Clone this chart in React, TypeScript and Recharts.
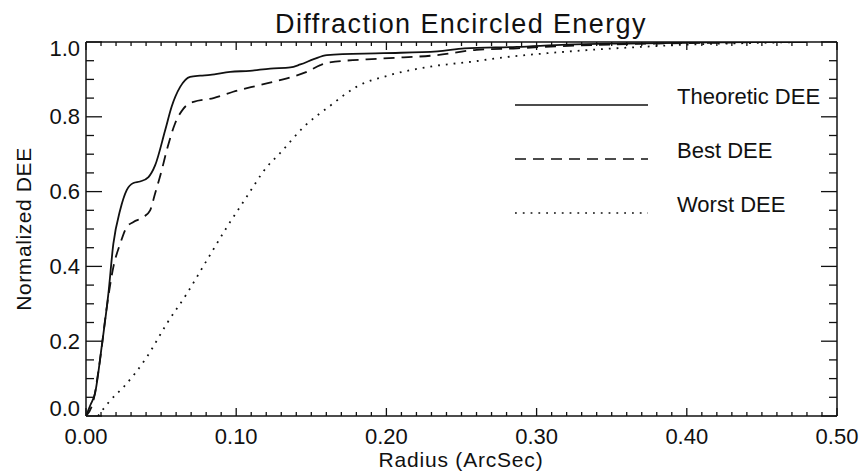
import React from "react";
import { LineChart, Line, XAxis, YAxis, Legend } from "recharts";

// radius (arcsec) / normalized DEE
const theoreticR = [0, 0.003, 0.006, 0.0104, 0.0149, 0.0182, 0.0227, 0.0271, 0.0316, 0.036, 0.0416, 0.046, 0.0527, 0.057, 0.0627, 0.0693, 0.076, 0.0827, 0.096, 0.109, 0.1227, 0.136, 0.1427, 0.1516, 0.1604, 0.198, 0.234, 0.252, 0.287, 0.32, 0.36, 0.4, 0.44, 0.48];
const theoreticDee = [0, 0.03, 0.06, 0.184, 0.327, 0.46, 0.55, 0.604, 0.623, 0.627, 0.639, 0.67, 0.764, 0.827, 0.88, 0.907, 0.91, 0.912, 0.92, 0.923, 0.929, 0.932, 0.94, 0.954, 0.965, 0.97, 0.975, 0.983, 0.987, 0.993, 0.996, 0.998, 1.0, 1.0];

const bestR = [0, 0.0049, 0.0093, 0.0138, 0.0182, 0.0227, 0.0271, 0.0316, 0.0382, 0.0427, 0.046, 0.0504, 0.0538, 0.0593, 0.0649, 0.0716, 0.0849, 0.098, 0.116, 0.1338, 0.147, 0.156, 0.1616, 0.198, 0.234, 0.26, 0.287, 0.305, 0.34, 0.38, 0.42, 0.46, 0.48];
const bestDee = [0, 0.041, 0.149, 0.29, 0.398, 0.46, 0.505, 0.519, 0.532, 0.55, 0.595, 0.657, 0.711, 0.782, 0.822, 0.84, 0.85, 0.867, 0.885, 0.903, 0.92, 0.938, 0.945, 0.956, 0.965, 0.979, 0.983, 0.987, 0.992, 0.996, 0.998, 1.0, 1.0];

const worstR = [0.008, 0.0116, 0.016, 0.0249, 0.0404, 0.0538, 0.0671, 0.0804, 0.0938, 0.107, 0.1204, 0.129, 0.145, 0.163, 0.18, 0.2027, 0.229, 0.256, 0.283, 0.307, 0.34, 0.37, 0.4, 0.44, 0.48];
const worstDee = [0, 0.019, 0.041, 0.077, 0.157, 0.247, 0.327, 0.416, 0.505, 0.586, 0.666, 0.702, 0.773, 0.831, 0.88, 0.912, 0.934, 0.947, 0.961, 0.97, 0.98, 0.987, 0.993, 0.997, 1.0];

const seriesNames = ["Theoretic DEE", "Best DEE", "Worst DEE"];
const xTickLabels = ["0.00", "0.10", "0.20", "0.30", "0.40", "0.50"];
const yTickLabels = ["0.0", "0.2", "0.4", "0.6", "0.8", "1.0"];

// minor ticks: 10 per major on x, 4 per major on y
const xTicks = Array.from({ length: 51 }, (_, i) => i / 100);
const yTicks = Array.from({ length: 21 }, (_, i) => i / 20);

const toRows = (r: number[], d: number[]) => r.map((v, i) => ({ r: v, dee: d[i] }));
const theoretic = toRows(theoreticR, theoreticDee);
const best = toRows(bestR, bestDee);
const worst = toRows(worstR, worstDee);

const INK = "#111";
const FONT = '"Liberation Sans", Arial, sans-serif';

const W = 863;
const H = 474;
const MARGIN = { top: 41, right: 25, bottom: 0, left: 0 };
const TOP_AXIS_H = 1;
const BOTTOM_AXIS_H = 58;
const PLOT_H = H - MARGIN.top - TOP_AXIS_H - BOTTOM_AXIS_H - MARGIN.bottom;

const tickPath = (x1: number, y1: number, x2: number, y2: number) => (
  <path d={`M${x1},${y1}L${x2},${y2}`} stroke={INK} strokeWidth={1.3} fill="none" />
);

// bottom ticks also draw the matching inward ticks on the top frame
const BottomTick = (props: any) => {
  const x = Number(props.x);
  const y = Number(props.y);
  const { index } = props;
  const major = index % 10 === 0;
  const len = major ? 8 : 4;
  const top = y - PLOT_H;
  return (
    <g>
      {tickPath(x, y, x, y - len)}
      {tickPath(x, top, x, top + len)}
      {major && (
        <text x={x} y={y + 20} textAnchor="middle" dominantBaseline="central" fontFamily={FONT} fontSize={22} fill={INK}>
          {xTickLabels[index / 10]}
        </text>
      )}
    </g>
  );
};

const LeftTick = (props: any) => {
  const x = Number(props.x);
  const y = Number(props.y);
  const { index } = props;
  const major = index % 4 === 0;
  const dy = index === 0 ? -8 : index === 20 ? 6 : 0;
  return (
    <g>
      {tickPath(x, y, x + (major ? 16 : 8), y)}
      {major && (
        <text x={x - 6} y={y + dy} textAnchor="end" dominantBaseline="central" fontFamily={FONT} fontSize={22} fill={INK}>
          {yTickLabels[index / 4]}
        </text>
      )}
    </g>
  );
};

const RightTick = (props: any) => {
  const x = Number(props.x);
  const y = Number(props.y);
  const major = props.index % 4 === 0;
  return <g>{tickPath(x, y, x - (major ? 16 : 8), y)}</g>;
};

const LegendBox = (props: any) => {
  const items = [...(props.payload || [])].sort(
    (a: any, b: any) => seriesNames.indexOf(a.value) - seriesNames.indexOf(b.value)
  );
  return (
    <div>
      {items.map((entry: any) => (
        <div key={entry.value} style={{ display: "flex", alignItems: "center", height: 54 }}>
          <svg width={133} height={54} style={{ display: "block" }}>
            <line
              x1={0}
              x2={133}
              y1={35}
              y2={35}
              stroke={INK}
              strokeWidth={1.6}
              strokeDasharray={entry.payload?.strokeDasharray}
            />
          </svg>
          <span style={{ marginLeft: 29, fontFamily: FONT, fontSize: 22, color: INK, whiteSpace: "nowrap" }}>
            {entry.value}
          </span>
        </div>
      ))}
    </div>
  );
};

export default function App() {
  return (
    <div style={{ position: "absolute", left: 0, top: 0, width: W, height: H, background: "#fff" }}>
      <LineChart width={W} height={H} margin={MARGIN}>
        <XAxis
          dataKey="r"
          type="number"
          domain={[0, 0.5]}
          ticks={xTicks}
          interval={0}
          height={BOTTOM_AXIS_H}
          tickSize={0}
          tickMargin={0}
          tick={<BottomTick />}
          tickLine={false}
          axisLine={{ stroke: INK, strokeWidth: 1.5 }}
          allowDataOverflow
        />
        <XAxis
          xAxisId="top"
          orientation="top"
          type="number"
          domain={[0, 0.5]}
          height={TOP_AXIS_H}
          tick={false}
          tickLine={false}
          axisLine={{ stroke: INK, strokeWidth: 1.5 }}
          allowDataOverflow
        />
        <YAxis
          type="number"
          domain={[0, 1]}
          ticks={yTicks}
          interval={0}
          width={86}
          tickSize={0}
          tickMargin={0}
          tick={<LeftTick />}
          tickLine={false}
          axisLine={{ stroke: INK, strokeWidth: 1.5 }}
          allowDataOverflow
        />
        <YAxis
          yAxisId="right"
          orientation="right"
          type="number"
          domain={[0, 1]}
          ticks={yTicks}
          interval={0}
          width={1}
          tickSize={0}
          tickMargin={0}
          tick={<RightTick />}
          tickLine={false}
          axisLine={{ stroke: INK, strokeWidth: 1.5 }}
          allowDataOverflow
        />
        <Legend
          layout="vertical"
          align="center"
          verticalAlign="middle"
          content={<LegendBox />}
          wrapperStyle={{ left: 515, top: 70, width: 320 }}
        />
        <Line data={theoretic} dataKey="dee" name={seriesNames[0]} type="monotone" stroke={INK} strokeWidth={1.8} dot={false} isAnimationActive={false} />
        <Line data={best} dataKey="dee" name={seriesNames[1]} type="monotone" stroke={INK} strokeWidth={1.8} strokeDasharray="11 7" dot={false} isAnimationActive={false} />
        <Line data={worst} dataKey="dee" name={seriesNames[2]} type="monotone" stroke={INK} strokeWidth={1.8} strokeDasharray="1.8 6" dot={false} isAnimationActive={false} />
      </LineChart>
      <svg width={W} height={H} style={{ position: "absolute", left: 0, top: 0, pointerEvents: "none" }}>
        <text x={461} y={33} textAnchor="middle" fontFamily={FONT} fontSize={27} letterSpacing={1.4} fill={INK}>
          Diffraction Encircled Energy
        </text>
        <text x={461} y={467} textAnchor="middle" fontFamily={FONT} fontSize={21} letterSpacing={0.8} fill={INK}>
          Radius (ArcSec)
        </text>
        <text x={31} y={229} textAnchor="middle" transform="rotate(-90 31 229)" fontFamily={FONT} fontSize={21} letterSpacing={0.6} fill={INK}>
          Normalized DEE
        </text>
      </svg>
    </div>
  );
}
